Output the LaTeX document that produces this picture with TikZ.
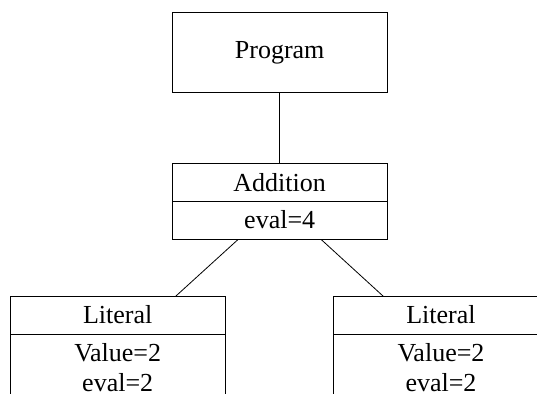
\documentclass[tikz,border=0pt]{standalone}
\usepackage{fontspec}
\setmainfont{Liberation Serif}
\usetikzlibrary{positioning,shapes.multipart}
\newcommand{\rowstrut}{\rule[-4pt]{0pt}{16.5pt}}
\newcommand{\topstrut}{\rule{0pt}{12.3pt}}
\newcommand{\botstrut}{\rule[-4pt]{0pt}{0pt}}

\begin{document}
\begin{tikzpicture}[
	x=1pt, y=1pt,
	every node/.style={font=\fontsize{13}{15}\selectfont},
	prog/.style={draw, minimum width=107.75pt, minimum height=40.3pt},
	cls/.style={draw, fill=white, rectangle split, rectangle split parts=2,
		minimum width=107.75pt, inner ysep=1pt, align=center}
]
	\useasboundingbox (0,0) rectangle (268.5,-197);
	\clip (0,0) rectangle (268.5,-197);

	\node[prog] (program) at (139.85,-26.2) {Program};
	\node[cls, below=35.15pt of program] (addition)
		{\rowstrut Addition\nodepart{two}\rowstrut eval=4};
	\node[cls, below=28.15pt of addition, xshift=-81pt] (litleft)
		{\rowstrut Literal\nodepart{two}\topstrut Value=2\\eval=2\botstrut};
	\node[cls, below=28.15pt of addition, xshift=80.65pt] (litright)
		{\rowstrut Literal\nodepart{two}\topstrut Value=2\\eval=2\botstrut};

	\draw (program) -- (addition);
	\draw (addition) -- (litleft);
	\draw (addition) -- (litright);

\end{tikzpicture}
\end{document}
